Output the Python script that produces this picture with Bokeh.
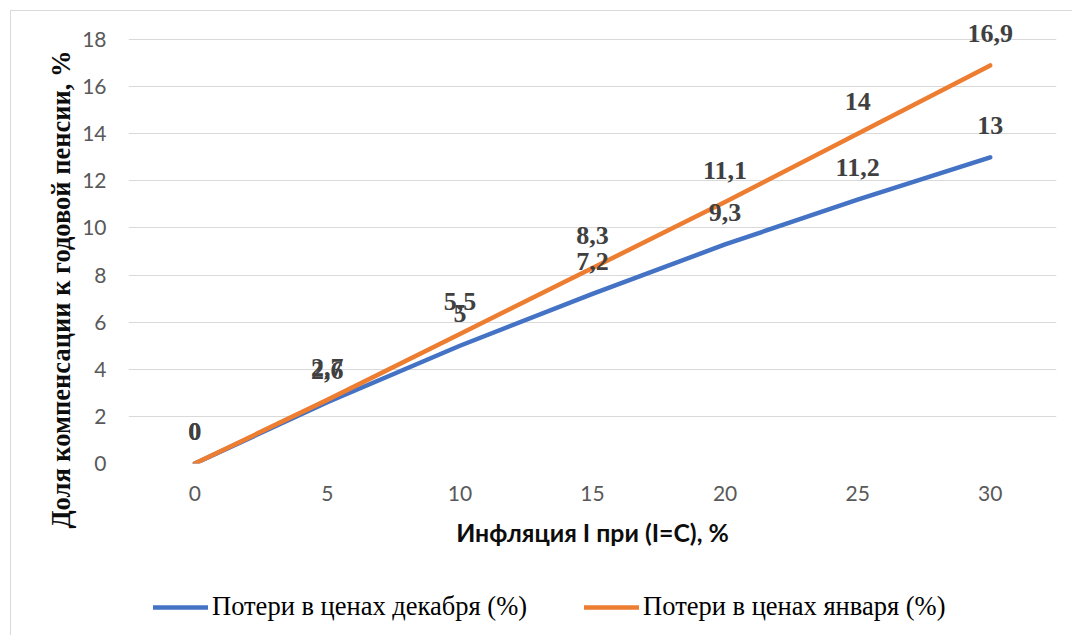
from bokeh.plotting import figure
from bokeh.layouts import column
from bokeh.models import (FactorRange, Range1d, FixedTicker, Legend, LegendItem,
                          Title, ColumnDataSource)
from bokeh.core.properties import value
from bokeh.embed import file_html
from bokeh.resources import INLINE

# ---- data ----
x_labels = ["0", "5", "10", "15", "20", "25", "30"]
dec_values = [0, 2.6, 5, 7.2, 9.3, 11.2, 13]
jan_values = [0, 2.7, 5.5, 8.3, 11.1, 14, 16.9]
y_ticks = [0, 2, 4, 6, 8, 10, 12, 14, 16, 18]
series_names = ["Потери в ценах декабря (%)", "Потери в ценах января (%)"]
series_colors = ["#4472C4", "#ED7D31"]
x_title = "Инфляция I при (I=C), %"
y_title = "Доля компенсации к годовой пенсии, %"


def fmt(v):
    return f"{v:g}".replace(".", ",")


src = ColumnDataSource(dict(
    x=x_labels,
    dec=dec_values,
    jan=jan_values,
    dec_lbl=[fmt(v) for v in dec_values],
    jan_lbl=[fmt(v) for v in jan_values],
))

# ---------------- main chart ----------------
MW, MH = 1061, 560
p_main = figure(width=MW, height=MH,
                x_range=FactorRange(factors=x_labels, range_padding=0),
                y_range=Range1d(0, 19.146),
                output_backend="svg", toolbar_location=None,
                min_border_left=117, min_border_right=16,
                min_border_top=1, min_border_bottom=108)
p_main.outline_line_color = None
p_main.background_fill_color = "white"
p_main.border_fill_color = "white"

xa = p_main.xaxis
xa.axis_line_color = None
xa.major_tick_line_color = None
xa.minor_tick_line_color = None
xa.major_tick_out = 0
xa.major_tick_in = 0
xa.major_label_text_font = "Lato"
xa.major_label_text_font_size = "21px"
xa.major_label_text_color = "#595959"
xa.major_label_standoff = 22
xa.axis_label = x_title
xa.axis_label_text_font = "Lato"
xa.axis_label_text_font_style = "bold"
xa.axis_label_text_font_size = "24.8px"
xa.axis_label_text_color = "#0d0d0d"
xa.axis_label_standoff = 14

ya = p_main.yaxis
ya.ticker = FixedTicker(ticks=y_ticks)
ya.axis_line_color = None
ya.major_tick_line_color = None
ya.minor_tick_line_color = None
ya.major_tick_out = 0
ya.major_tick_in = 0
ya.major_label_text_font = "Lato"
ya.major_label_text_font_size = "21px"
ya.major_label_text_color = "#595959"
ya.major_label_standoff = 22

p_main.xgrid.visible = False
p_main.ygrid.ticker = FixedTicker(ticks=y_ticks)
p_main.ygrid.grid_line_color = "#d9d9d9"
p_main.ygrid.grid_line_width = 1

p_main.line(x="x", y="dec", source=src, line_color=series_colors[0], line_width=4.5,
            line_cap="round", line_join="round")
p_main.line(x="x", y="jan", source=src, line_color=series_colors[1], line_width=4.5,
            line_cap="round", line_join="round")

for col in ["dec_lbl", "jan_lbl"]:
    ycol = col.split("_")[0]
    p_main.text(x="x", y=ycol, text=col, source=src,
                text_font=value("Liberation Serif"), text_font_style="bold",
                text_font_size="26px", text_color="#404040",
                text_align="center", text_baseline="middle", y_offset=-32)

# y-axis title as a side-panel title (shifted along the axis like the original)
p_main.add_layout(Title(text=y_title, align="right", offset=38,
                        text_font="Liberation Serif", text_font_style="bold",
                        text_font_size="26.5px", text_color="#0d0d0d",
                        vertical_align="middle", standoff=6), "left")

# ---------------- legend strip (frame is aligned with the main frame) ----------------
LW, LH = 1061, 64
p_lg = figure(width=LW, height=LH, x_range=Range1d(0, 1), y_range=Range1d(0, 1),
              output_backend="svg", toolbar_location=None,
              x_axis_type=None, y_axis_type=None,
              min_border=0, min_border_left=0, min_border_right=0,
              min_border_top=0, min_border_bottom=0)
p_lg.outline_line_color = None
p_lg.grid.visible = False
nan = float("nan")
lg_r = [p_lg.line(x=[nan], y=[nan], line_color=c, line_width=4.5, line_cap="round")
        for c in series_colors]
legend = Legend(items=[LegendItem(label=n, renderers=[r]) for n, r in zip(series_names, lg_r)],
                orientation="horizontal", location=(25, 13),
                label_text_font="Liberation Serif", label_text_font_size="26.5px",
                label_text_color="#000000",
                glyph_width=55, glyph_height=30, label_height=30,
                label_standoff=4, spacing=57, padding=0, margin=0,
                border_line_color=None, background_fill_alpha=0)
p_lg.add_layout(legend, "center")

p = column(p_main, p_lg, spacing=0)
p.margin = (10, 0, 0, 10)
p.styles = {"border-left": "1px solid #d9d9d9", "border-top": "1px solid #d9d9d9"}

open("out.html", "w").write(file_html(p, INLINE))
